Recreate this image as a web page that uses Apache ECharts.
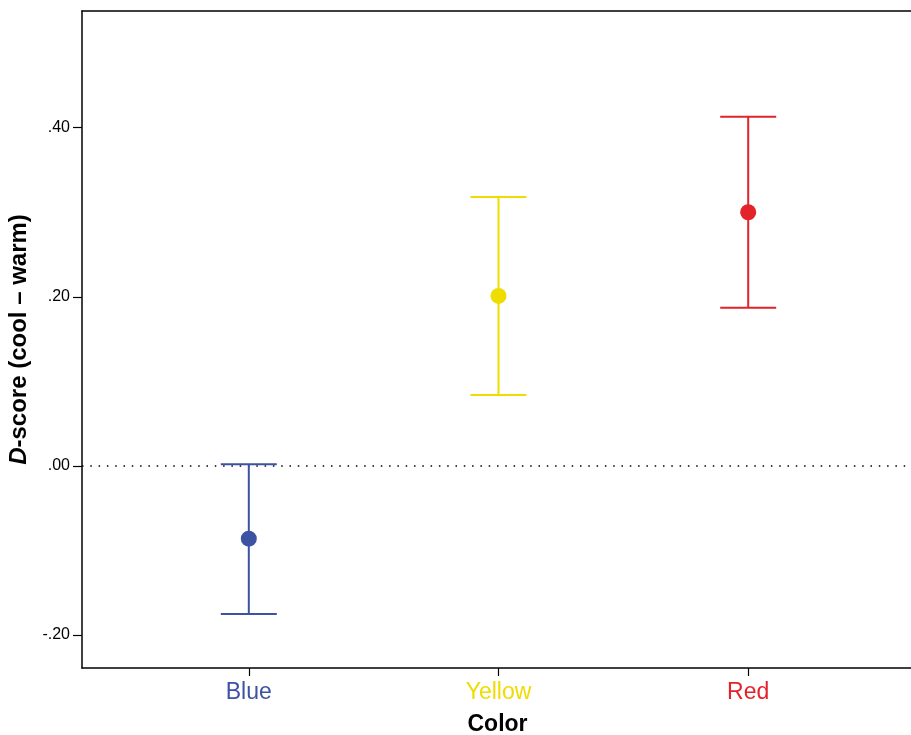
<!DOCTYPE html>
<html>
<head>
<meta charset="utf-8">
<script src="https://cdn.jsdelivr.net/npm/echarts@6/dist/echarts.min.js"></script>
<style>
  html, body { margin: 0; padding: 0; background: #fff; }
  #chart { width: 911px; height: 735px; }
</style>
</head>
<body>
<div id="chart"></div>
<script>
// Mean D-scores with 95% CI per color condition
const categories = ['Blue', 'Yellow', 'Red'];
const means = [-0.086, 0.201, 0.300];
const lowerCI = [-0.175, 0.084, 0.187];
const upperCI = [0.002, 0.318, 0.413];
const colors = ['#3d52a3', '#efdc00', '#e3222a'];
const yTicks = [-0.2, 0, 0.2, 0.4];

const chart = echarts.init(document.getElementById('chart'));

const FONT = 'Liberation Sans, Arial, sans-serif';

const fmtTick = v => {
  const s = Math.abs(v).toFixed(2).replace(/^0/, '');
  return (v < 0 ? '-' : '') + s;
};

const barData = categories.map((c, i) => [i, lowerCI[i], upperCI[i]]);
const pointData = categories.map((c, i) => ({
  value: [i, means[i]],
  itemStyle: { color: colors[i], opacity: 1 }
}));

const rich = {};
categories.forEach((c, i) => { rich['c' + i] = { color: colors[i], fontSize: 23, fontFamily: FONT }; });

const X_MIN = -0.668, X_MAX = 2.66;

chart.setOption({
  animation: false,
  grid: { left: 82, right: -2, top: 11, bottom: 67, show: false, containLabel: false, outerBoundsMode: 'none' },
  xAxis: [{
    type: 'value',
    min: X_MIN,
    max: X_MAX,
    axisLine: { show: true, onZero: false, lineStyle: { color: '#000', width: 1.5 } },
    splitLine: { show: false },
    axisTick: { show: true, customValues: [0, 1, 2], length: 8, lineStyle: { color: '#000', width: 1.2 } },
    axisLabel: {
      customValues: [0, 1, 2],
      margin: 13,
      formatter: v => '{c' + v + '|' + categories[v] + '}',
      rich: rich
    },
    name: 'Color',
    nameLocation: 'middle',
    nameGap: 45,
    nameTextStyle: { fontSize: 23, fontWeight: 'bold', color: '#000', fontFamily: FONT }
  }, {
    type: 'value',
    position: 'top',
    min: X_MIN,
    max: X_MAX,
    axisLine: { show: true, onZero: false, lineStyle: { color: '#000', width: 1.5 } },
    axisTick: { show: false },
    axisLabel: { show: false },
    splitLine: { show: false }
  }],
  yAxis: {
    type: 'value',
    min: -0.239,
    max: 0.538,
    axisLine: { show: true, onZero: false, lineStyle: { color: '#000', width: 1.5 } },
    splitLine: { show: false },
    axisTick: { show: true, customValues: yTicks, length: 9, lineStyle: { color: '#000', width: 1.2 } },
    axisLabel: {
      customValues: yTicks,
      margin: 12,
      formatter: fmtTick,
      color: '#000',
      fontSize: 16,
      fontFamily: FONT
    },
    name: '{i|D}{b|-score (cool \u2013 warm)}',
    nameLocation: 'middle',
    nameGap: 50,
    nameTextStyle: {
      rich: {
        i: { fontSize: 24, fontWeight: 'bold', fontStyle: 'italic', color: '#000', fontFamily: FONT },
        b: { fontSize: 24, fontWeight: 'bold', color: '#000', fontFamily: FONT }
      }
    }
  },
  series: [
    {
      // zero reference line
      type: 'line',
      data: [[X_MIN, 0], [X_MAX, 0]],
      symbol: 'none',
      silent: true,
      lineStyle: { color: '#000', width: 1.5, type: [1.5, 6.8] },
      z: 1
    },
    {
      type: 'custom',
      data: barData,
      renderItem: (params, api) => {
        const x = api.value(0);
        const lo = api.coord([x, api.value(1)]);
        const hi = api.coord([x, api.value(2)]);
        const half = 28;
        const style = { stroke: colors[params.dataIndex], lineWidth: 2, fill: null };
        return {
          type: 'group',
          children: [
            { type: 'line', shape: { x1: lo[0], y1: lo[1], x2: hi[0], y2: hi[1] }, style },
            { type: 'line', shape: { x1: lo[0] - half, y1: lo[1], x2: lo[0] + half, y2: lo[1] }, style },
            { type: 'line', shape: { x1: hi[0] - half, y1: hi[1], x2: hi[0] + half, y2: hi[1] }, style }
          ]
        };
      },
      z: 2
    },
    {
      type: 'scatter',
      data: pointData,
      symbol: 'circle',
      symbolSize: 16,
      z: 3
    }
  ]
});
</script>
</body>
</html>
